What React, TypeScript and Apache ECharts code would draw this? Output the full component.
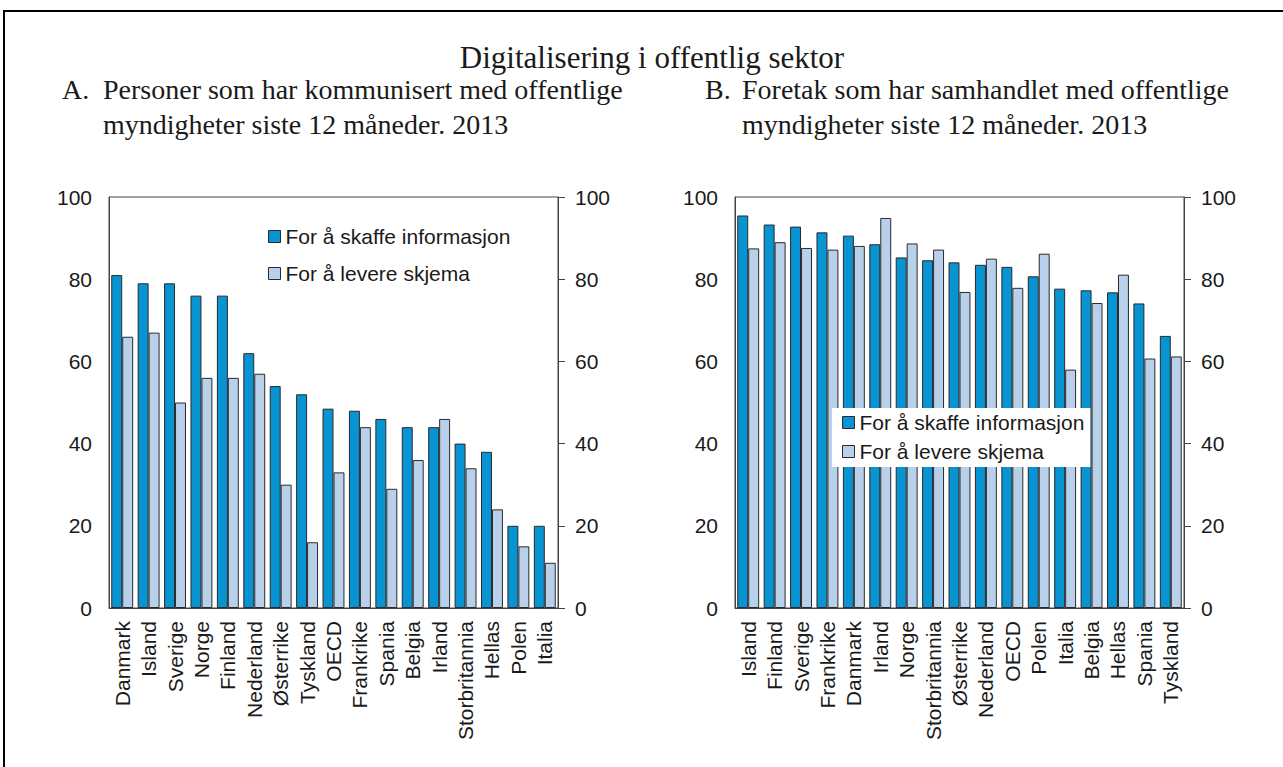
import React, { useEffect, useRef } from 'react';
import * as echarts from 'echarts';

const categoriesA = ['Danmark', 'Island', 'Sverige', 'Norge', 'Finland', 'Nederland', 'Østerrike', 'Tyskland', 'OECD', 'Frankrike', 'Spania', 'Belgia', 'Irland', 'Storbritannia', 'Hellas', 'Polen', 'Italia'];
const infoA = [81, 79, 79, 76, 76, 62, 54, 52, 48.5, 48, 46, 44, 44, 40, 38, 20, 20];
const skjemaA = [66, 67, 50, 56, 56, 57, 30, 16, 33, 44, 29, 36, 46, 34, 24, 15, 11];

const categoriesB = ['Island', 'Finland', 'Sverige', 'Frankrike', 'Danmark', 'Irland', 'Norge', 'Storbritannia', 'Østerrike', 'Nederland', 'OECD', 'Polen', 'Italia', 'Belgia', 'Hellas', 'Spania', 'Tyskland'];
const infoB = [95.5, 93.3, 92.8, 91.4, 90.6, 88.5, 85.3, 84.6, 84.1, 83.5, 83.0, 80.7, 77.7, 77.3, 76.8, 74.1, 66.2];
const skjemaB = [87.5, 89.0, 87.6, 87.2, 88.1, 94.9, 88.7, 87.2, 76.9, 85.0, 77.9, 86.2, 58.0, 74.2, 81.1, 60.7, 61.2];

const seriesNames = ['For å skaffe informasjon', 'For å levere skjema'];
const yTicks = [0, 20, 40, 60, 80, 100];

const title = 'Digitalisering i offentlig sektor';
const subA = ['Personer som har kommunisert med offentlige', 'myndigheter siste 12 måneder. 2013'];
const subB = ['Foretak som har samhandlet med offentlige', 'myndigheter siste 12 måneder. 2013'];

const SANS = '"Liberation Sans", Arial, sans-serif';
const SERIF = '"Liberation Serif", "Times New Roman", serif';
const DARK = '#0893D2';
const LIGHT = '#B9D0EA';
const BORDER = '#2a2a2a';
const AXIS = '#444';
const TEXT = '#1a1a1a';

function yAxes(gridIndex: number) {
  const base = {
    gridIndex,
    type: 'value',
    min: yTicks[0],
    max: yTicks[yTicks.length - 1],
    interval: 20,
    splitLine: { show: false },
    axisLine: { show: true, lineStyle: { color: AXIS, width: 1 } },
    axisLabel: { fontSize: 21, color: TEXT, fontFamily: SANS, margin: 17 },
  };
  return [
    { ...base, position: 'left', axisTick: { show: false } },
    { ...base, position: 'right', axisTick: { show: true, inside: false, length: 7, lineStyle: { color: AXIS } } },
  ];
}

function xAxis(gridIndex: number, cats: string[]) {
  return {
    gridIndex,
    type: 'category',
    data: cats,
    axisTick: { show: false },
    axisLine: { show: true, lineStyle: { color: AXIS, width: 1 } },
    axisLabel: { rotate: 90, fontSize: 21, color: TEXT, fontFamily: SANS, margin: 13, interval: 0 },
  };
}

function bars(xi: number, yi: number, info: number[], skjema: number[]) {
  return [
    {
      type: 'bar', name: seriesNames[0], xAxisIndex: xi, yAxisIndex: yi, data: info,
      barGap: '0%', barCategoryGap: '17%',
      itemStyle: { color: DARK, borderColor: BORDER, borderWidth: 1 },
    },
    {
      type: 'bar', name: seriesNames[1], xAxisIndex: xi, yAxisIndex: yi, data: skjema,
      barGap: '0%', barCategoryGap: '17%',
      itemStyle: { color: LIGHT, borderColor: BORDER, borderWidth: 1 },
    },
  ];
}

const legendData = [
  { name: seriesNames[0], itemStyle: { color: DARK, borderColor: BORDER, borderWidth: 1 } },
  { name: seriesNames[1], itemStyle: { color: LIGHT, borderColor: BORDER, borderWidth: 1 } },
];

const textEl = (x: number, y: number, text: string, size: number, align = 'left') => ({
  type: 'text', x, y,
  style: { text, fontSize: size, fontFamily: SERIF, fill: TEXT, align, verticalAlign: 'middle' },
});

export default function App() {
  const ref = useRef<HTMLDivElement>(null);
  useEffect(() => {
    const chart = echarts.init(ref.current!, null, { renderer: 'svg' });
    const option = {
      animation: false,
      backgroundColor: '#fff',
      grid: [
        { left: 109, top: 197, width: 449, height: 411, show: true, borderColor: AXIS, borderWidth: 1, backgroundColor: 'transparent' },
        { left: 735, top: 197, width: 449, height: 411, show: true, borderColor: AXIS, borderWidth: 1, backgroundColor: 'transparent' },
      ],
      xAxis: [xAxis(0, categoriesA), xAxis(1, categoriesB)],
      yAxis: [...yAxes(0), ...yAxes(1)],
      legend: [
        {
          left: 268, top: 226, orient: 'vertical', padding: 0, itemGap: 16,
          itemWidth: 12, itemHeight: 12, icon: 'rect', selectedMode: false,
          textStyle: { fontSize: 21, color: TEXT, fontFamily: SANS },
          data: legendData,
        },
        {
          left: 832, top: 408, orient: 'vertical', padding: [4, 6, 5, 10], itemGap: 8,
          itemWidth: 12, itemHeight: 12, icon: 'rect', selectedMode: false,
          backgroundColor: '#fff',
          textStyle: { fontSize: 21, color: TEXT, fontFamily: SANS },
          data: legendData,
        },
      ],
      series: [...bars(0, 0, infoA, skjemaA), ...bars(1, 2, infoB, skjemaB)],
      graphic: [
        { type: 'rect', shape: { x: 4, y: 11, width: 1400, height: 800 }, style: { fill: 'none', stroke: '#000', lineWidth: 2 }, silent: true },
        textEl(652, 57, title, 31, 'center'),
        textEl(62, 89, 'A.', 28),
        textEl(103, 89, subA[0], 28),
        textEl(103, 124, subA[1], 28),
        textEl(705, 89, 'B.', 28),
        textEl(742, 89, subB[0], 28),
        textEl(742, 124, subB[1], 28),
      ],
    };
    chart.setOption(option as any);
    return () => chart.dispose();
  }, []);
  return <div ref={ref} style={{ position: 'fixed', left: 0, top: 0, width: 1283, height: 767, background: '#fff' }} />;
}
